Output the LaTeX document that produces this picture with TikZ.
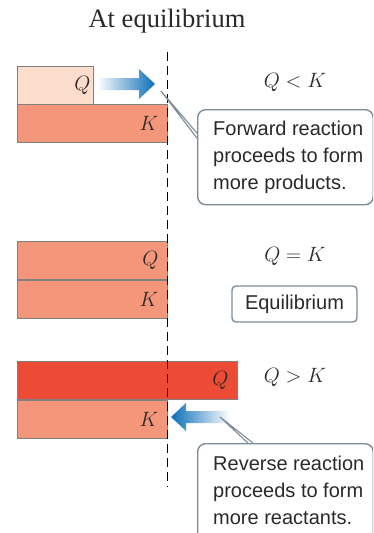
\documentclass[tikz,border=0pt]{standalone}
\usepackage{fontspec}
\newfontfamily\notefont{Liberation Sans}
\newfontfamily\headfont{Liberation Serif}
\usepackage{tikz}
\usetikzlibrary{positioning}
\definecolor{qlight}{HTML}{FCDCCB}
\definecolor{qmid}{HTML}{F4967A}
\definecolor{qhigh}{HTML}{EE4B36}
\definecolor{edge}{HTML}{808080}
\definecolor{flow}{HTML}{0B6FB8}
\definecolor{callout}{HTML}{7C8C9A}
\definecolor{ink}{HTML}{2A2A2A}

\begin{document}
\begin{tikzpicture}[x=1pt,y=-1pt,
  bar/.style={draw=edge,line width=0.8pt,anchor=north west,minimum height=38pt,
              inner xsep=9pt,inner ysep=0pt,align=right,text=ink,
              font=\fontsize{20.74}{24}\selectfont},
  rel/.style={text=ink,font=\fontsize{20.74}{24}\selectfont},
  note/.style={draw=callout,line width=1.4pt,fill=white,rounded corners=8pt},
  notetext/.style={text=ink,align=left,inner sep=0pt,
                   font=\notefont\fontsize{20}{27}\selectfont},
  tail/.style={draw=callout,line width=1.1pt},
  fwdflow/.style={left color=white,right color=flow},
  revflow/.style={left color=flow,right color=white},
  eqline/.style={line width=1pt,dash pattern=on 9pt off 5pt}
]
\useasboundingbox (0,0) rectangle (373,533);
\clip (0,0) rectangle (373,533);

\node[text=ink,font=\headfont\fontsize{26.5}{30}\selectfont] (title) at (167,21) {At equilibrium};

% Q < K
\node[bar,fill=qmid,text width=132pt] (k1) at (17,104) {$K$};
\node[bar,fill=qlight,text width=70pt,inner xsep=3pt] (q1) at (17,66) {$Q$};
\node[rel] (rel1) at (295,82) {$Q<K$};
\coordinate (fwd) at (155,84);
\shade[fwdflow] (fwd) -- ++(-16,15) -- ++(0,-9) -- ++(-42,0) -- ++(0,-12)
  -- ++(42,0) -- ++(0,-9) -- cycle;

% Q = K
\node[bar,fill=qmid,text width=132pt] (q2) at (17,241) {$Q$};
\node[bar,fill=qmid,text width=132pt,below=0pt of q2.south west,anchor=north west] (k2) {$K$};
\node[rel] (rel2) at (295,256) {$Q=K$};
\node[note,rounded corners=4pt,minimum width=125pt,minimum height=36pt,inner sep=0pt,
      text=ink,font=\notefont\fontsize{20}{24}\selectfont] (eqnote) at (294.5,304) {Equilibrium};

% Q > K
\node[bar,fill=qhigh,text width=202pt] (q3) at (17,361) {$Q$};
\node[bar,fill=qmid,text width=132pt,below=0pt of q3.south west,anchor=north west] (k3) {$K$};
\node[rel] (rel3) at (295,377) {$Q>K$};
\coordinate (rev) at (171,417);
\shade[revflow] (rev) -- ++(15,-14) -- ++(0,8) -- ++(44,0) -- ++(0,12)
  -- ++(-44,0) -- ++(0,8) -- cycle;

% equilibrium line
\coordinate (eqtop) at (167,52);
\coordinate (eqbot) at (167,487);
\draw[eqline] (eqtop) -- (eqbot);

% callouts
\node[note,anchor=north west,minimum width=175.5pt,minimum height=95pt] (c1) at (197,109) {};
\node[notetext,right=16pt of c1.west] (t1) {Forward reaction\\proceeds to form\\more products.};
\coordinate (fwdnote) at (161,91);
\draw[tail] ([yshift=24pt]c1.west) -- (fwdnote) -- ([yshift=19pt]c1.west);

\node[note,anchor=north west,minimum width=175.5pt,minimum height=120pt] (c2) at (197,443) {};
\node[notetext,below right=13pt and 16pt of c2.north west] (t2) {Reverse reaction\\proceeds to form\\more reactants.};
\coordinate (revnote) at (220,417);
\draw[tail] ([xshift=51pt]c2.north west) -- (revnote) -- ([xshift=56pt]c2.north west);
\end{tikzpicture}
\end{document}
